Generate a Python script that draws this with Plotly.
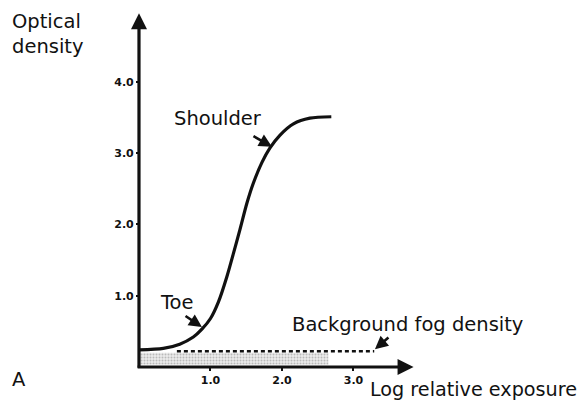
import plotly.graph_objects as go

# Characteristic (H&D) curve
curve_x = [0.0, 0.34, 0.57, 0.76, 0.88, 1.00, 1.11, 1.23, 1.32, 1.41, 1.51, 1.60, 1.72, 1.83, 1.97, 2.16, 2.39, 2.69]
curve_y = [0.24, 0.26, 0.32, 0.42, 0.53, 0.68, 0.91, 1.27, 1.59, 1.92, 2.30, 2.58, 2.87, 3.07, 3.25, 3.41, 3.49, 3.51]

# Background fog level (dashed) and shaded fog band
fog_x = [0.53, 3.29]
fog_y = [0.22, 0.22]
band_x = [0.0, 2.65, 2.65, 0.0, 0.0]
band_y = [0.03, 0.03, 0.20, 0.20, 0.03]

x_ticks = [1, 2, 3]
x_tick_labels = ["1.0", "2.0", "3.0"]
y_ticks = [1, 2, 3, 4]
y_tick_labels = ["1.0", "2.0", "3.0", "4.0"]

FONT = "DejaVu Sans"
INK = "#111111"

fig = go.Figure()

fig.add_trace(go.Scatter(
    x=band_x, y=band_y, mode="lines", fill="toself",
    line=dict(width=0), fillcolor="rgba(0,0,0,0)",
    fillpattern=dict(shape=".", fgcolor="#8a8a8a", bgcolor="#ebebeb", size=3, solidity=0.35),
    hoverinfo="skip"))

fig.add_trace(go.Scatter(
    x=fog_x, y=fog_y, mode="lines",
    line=dict(color=INK, width=2.5, dash="4px,3px"), hoverinfo="skip"))

fig.add_trace(go.Scatter(
    x=curve_x, y=curve_y, mode="lines",
    line=dict(color=INK, width=3.2, shape="spline", smoothing=0.8), hoverinfo="skip"))

annotations = []

def arrow(tail, tip, width, size):
    annotations.append(dict(
        x=tip[0], y=tip[1], ax=tail[0], ay=tail[1],
        xref="x", yref="y", axref="x", ayref="y",
        text="", showarrow=True, arrowhead=2, arrowsize=size,
        arrowwidth=width, arrowcolor=INK))

# axes drawn as arrows
arrow((0, -0.03), (0, 4.96), 3.2, 1.0)
arrow((-0.04, 0), (3.84, 0), 3.2, 1.0)
# label pointers
arrow((1.58, 3.25), (1.86, 3.09), 2.6, 1.0)
arrow((0.63, 0.73), (0.88, 0.56), 2.6, 1.0)
arrow((3.51, 0.43), (3.30, 0.25), 2.6, 1.0)

def label(text, x, y, xanchor="center", yanchor="middle", align="center", size=19.5):
    annotations.append(dict(
        x=x, y=y, xref="x", yref="y", text=text, showarrow=False,
        xanchor=xanchor, yanchor=yanchor, align=align,
        font=dict(family=FONT, size=size, color=INK)))

label("Optical<br>density", -1.81, 5.03, xanchor="left", yanchor="top", align="left")
label("Shoulder", 1.105, 3.48)
label("Toe", 0.53, 0.91)
label("Background fog density", 3.75, 0.60)
label("Log relative exposure", 3.20, -0.32, xanchor="left", size=19.2)
label("A", -1.678, -0.17)

fig.update_layout(
    width=577, height=394,
    margin=dict(l=0, r=0, t=0, b=0),
    paper_bgcolor="white", plot_bgcolor="white",
    showlegend=False,
    annotations=annotations,
    xaxis=dict(range=[-1.832, 6.238], showgrid=False, zeroline=False, showline=False,
               tickvals=x_ticks, ticktext=x_tick_labels, ticks="outside", ticklen=3,
               tickwidth=1.5, tickcolor=INK,
               tickfont=dict(family=FONT, size=11, color=INK, weight="bold"),
               anchor="free", position=0.0888, fixedrange=True),
    yaxis=dict(range=[-0.491, 5.035], showgrid=False, zeroline=False, showline=False,
               tickvals=y_ticks, ticktext=y_tick_labels, ticks="outside", ticklen=3,
               tickwidth=1.5, tickcolor=INK,
               tickfont=dict(family=FONT, size=11, color=INK, weight="bold"),
               anchor="free", position=0.2270, fixedrange=True),
)

fig.write_html("out.html")
